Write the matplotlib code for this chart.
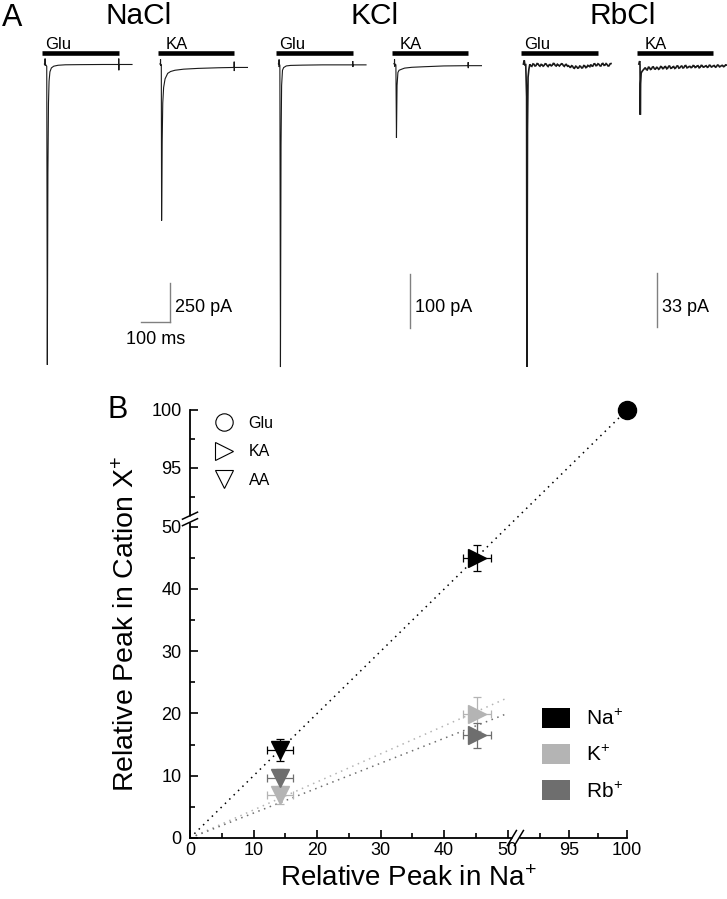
import numpy as np
import matplotlib
matplotlib.use("Agg")
import matplotlib.pyplot as plt
import matplotlib.transforms as mtransforms
from matplotlib.lines import Line2D
from matplotlib.patches import Patch
from matplotlib.ticker import FixedLocator, FixedFormatter

plt.rcParams['font.family'] = ['Liberation Sans', 'DejaVu Sans']
plt.rcParams['mathtext.fontset'] = 'custom'
plt.rcParams['mathtext.rm'] = 'Liberation Sans'
plt.rcParams['mathtext.it'] = 'Liberation Sans:italic'

# ---------------- Panel A data (time in ms from application onset, current in pA) -------------
SALTS = ['NaCl', 'KCl', 'RbCl']
AGONISTS = ['Glu', 'KA']
SCALE_PA = [250, 100, 33]          # vertical scale bar value per salt
SCALE_MS = 100                     # horizontal scale bar (NaCl only)
APPLICATION_MS = [-10, 255]        # agonist application bar

T_NA_GLU = [-2, 0, 0.3, 0.6, 1, 6, 8, 10, 12, 14, 17, 22, 30, 45, 70, 120, 200, 254, 254.3, 254.6, 255, 300]
I_NA_GLU = [0, 0, 35, -10, 0, -15, -1929, -700, -250, -110, -50, -25, -14, -8, -5, -4, -3, -3, 35, -40, -3, -3]
T_NA_KA = [-2, 0, 0.3, 0.6, 1, 3, 4, 6, 8, 11, 16, 25, 35, 50, 80, 130, 200, 254, 254.3, 254.6, 255, 300]
I_NA_KA = [0, 0, 30, -10, 0, -10, -1004, -500, -250, -150, -95, -60, -48, -40, -33, -28, -24, -22, 15, -45, -22, -22]

T_K_GLU = [-2, 0, 0.3, 0.6, 1, 3, 5, 7, 9, 12, 16, 25, 40, 80, 150, 254, 254.3, 254.6, 255, 300]
I_K_GLU = [0, 0, 8, -6, 0, -3, -561, -150, -40, -12, -7, -4, -3, -2.5, -2, -2, 5, -6, -2, -2]
T_K_KA = [-2, 0, 0.3, 0.6, 1, 5, 7, 9, 12, 16, 25, 35, 60, 100, 170, 254, 254.3, 254.6, 255, 300]
I_K_KA = [0, 0, 8, -5, 0, -2, -137, -40, -16, -12, -10, -8, -6.5, -5.5, -4, -3.5, 3, -8, -3.5, -3.5]

T_RB_GLU = [-2, 0, 1, 3, 6, 9, 10, 12, 14, 17,
            20, 24, 27, 31, 34, 38, 41, 45, 48, 52, 55, 59, 62, 66, 69, 73, 76, 80, 83, 87, 90, 94, 97,
            101, 104, 108, 111, 115, 118, 122, 125, 129, 132, 136, 139, 143, 146, 150, 153, 157,
            160, 164, 167, 171, 174, 178, 181, 185, 188, 192, 195, 199, 202, 206, 209, 213, 216,
            220, 223, 227, 230, 234, 237, 241, 244, 248, 251, 255, 258, 262, 265, 269, 272, 276,
            279, 283, 286, 290, 293, 297, 300]
I_RB_GLU = [0, 1.8, 2.2, -0.5, -0.4, -20, -185, -40, -8, -3,
            -0.2, -1.1, -1.4, 0.1, -0.1, -1.2, -1.0, 0.3, 0.2, -0.9, -1.3, -0.2, -0.4, -1.3, -0.9,
            0.2, 0.1, -1.0, -1.5, -0.4, -0.3, -1.1, -0.8, 0.4, 0.3, -0.9, -1.2, -0.1, -0.5, -1.2,
            -0.6, 0.2, 0.1, -1.0, -1.4, -0.3, -0.2, -1.3, -1.0, -1.6,
            -2.2, -1.0, -1.2, -2.4, -2.6, -1.3, -1.5, -2.5, -2.4, -1.2, -1.4, -2.4, -2.3, -0.9,
            -1.0, -2.2, -2.0, -0.8, -1.1, -1.6, -0.3, -1.2, -1.3, 0.1, 0.2, -1.0, -0.9, 0.2, -0.1,
            -1.1, -1.2, 0.2, 0.4, -0.8, -0.7, 0.3, -0.2, -1.2, -1.1, 0.2, 0.3]
T_RB_KA = [-2, 0, 1, 2, 3, 4, 6, 9, 13,
           20, 24, 27, 31, 34, 38, 41, 45, 48, 52, 55, 59, 62, 66, 69, 73, 76, 80, 83, 87, 90, 94, 97,
           101, 104, 108, 111, 115, 118, 122, 125, 129, 132, 136, 139, 143, 146, 150, 153, 157,
           160, 164, 167, 171, 174, 178, 181, 185, 188, 192, 195, 199, 202, 206, 209, 213, 216,
           220, 223, 227, 230, 234, 237, 241, 244, 248, 251, 255, 258, 262, 265, 269, 272, 276,
           279, 283, 286, 290, 293, 297, 300]
I_RB_KA = [0, 1.4, 1.8, -0.5, -31, -12, -5.5, -4.5, -3.6,
           -2.2, -3.4, -3.6, -1.9, -2.0, -3.3, -3.1, -1.8, -1.7, -3.0, -3.1, -2.0, -2.1, -3.2,
           -2.9, -1.5, -1.6, -2.8, -2.7, -1.6, -1.5, -2.9, -2.6, -1.3, -1.2, -2.6, -2.5, -1.7,
           -1.5, -2.7, -2.4, -1.2, -1.1, -2.5, -2.3, -1.4, -1.2, -2.4, -2.2, -1.0, -0.9, -2.3,
           -2.1, -1.5, -1.4, -2.2, -2.0, -0.9, -1.0, -2.1, -1.9, -1.1, -1.0, -2.3, -2.0, -0.8,
           -0.9, -1.9, -1.8, -1.2, -1.0, -2.0, -1.8, -0.7, -0.8, -1.8, -1.6, -1.0, -0.9, -1.9,
           -1.7, -0.6, -0.7, -1.7, -1.5, -0.9, -0.8, -1.6, -1.4, -0.5, -0.6]

TRACES = {
    'NaCl': [(T_NA_GLU, I_NA_GLU), (T_NA_KA, I_NA_KA)],
    'KCl': [(T_K_GLU, I_K_GLU), (T_K_KA, I_K_KA)],
    'RbCl': [(T_RB_GLU, I_RB_GLU), (T_RB_KA, I_RB_KA)],
}

# ---------------- Panel B data ----------------
IONS = ['Na$^{\\!+}$', 'K$^{\\!+}$', 'Rb$^{\\!+}$']
ION_COLORS = ['#000000', '#b4b4b4', '#6e6e6e']
GLU_X = [100.0]
GLU_Y = [100.0]
KA_X = [45.2, 45.2, 45.2]
KA_XERR = [2.2, 2.2, 2.2]
KA_Y = [45.0, 19.9, 16.5]
KA_YERR = [2.1, 2.7, 2.0]
AA_X = [14.2, 14.2, 14.2]
AA_XERR = [2.0, 2.0, 2.0]
AA_Y = [14.1, 6.9, 9.6]
AA_YERR = [1.8, 1.5, 1.5]
FIT_SLOPE = [1.0, 0.45, 0.40]
FIT_XMAX = [100, 50, 50]
MAJOR_TICKS = [0, 10, 20, 30, 40, 50, 95, 100]
MINOR_TICKS = [5, 15, 25, 35, 45, 92.5, 97.5]

# ---------------- figure ----------------
W, H = 727, 899
fig = plt.figure(figsize=(W / 100, H / 100), dpi=100)


def px_axes(left, top, width, height):
    return fig.add_axes([left / W, 1 - (top + height) / H, width / W, height / H])


# Panel A layout
A_LEFT = [30.5, 264.5, 509.5]
A_TOP, A_H, A_W = 40, 340, 230
A_XLIM = (-50, 743)
A_YLIM = [(-2026, 154), (-585, 44), (-193, 14.7)]
KA_OFFSET = 398
TITLE_X = [0.47, 0.48, 0.49]
SB_X = [431, 452, 459]
SB_BOTTOM = [0.171, 0.153, 0.156]
LABEL_X = [0, 18]
trace_color = '#1a1a1a'
bar_color = '#808080'

for i, salt in enumerate(SALTS):
    ax = px_axes(A_LEFT[i], A_TOP, A_W, A_H)
    ax.set_xlim(*A_XLIM)
    ax.set_ylim(*A_YLIM[i])
    ax.axis('off')
    blend = mtransforms.blended_transform_factory(ax.transData, ax.transAxes)
    lw = 1.2 if salt == 'RbCl' else 0.8
    for j, (t, cur) in enumerate(TRACES[salt]):
        off = j * KA_OFFSET
        ax.plot(np.asarray(t) + off, cur, color=trace_color, lw=lw, solid_joinstyle='miter')
        ax.plot([APPLICATION_MS[0] + off, APPLICATION_MS[1] + off], [0.963, 0.963],
                transform=blend, color='black', lw=3.3, solid_capstyle='butt')
        ax.text(LABEL_X[j] + off, 0.973, AGONISTS[j], transform=blend, fontsize=12,
                ha='left', va='baseline')
    ax.text(TITLE_X[i], 1.07, salt, transform=ax.transAxes, fontsize=21.5,
            ha='center', va='center')
    y0, y1 = A_YLIM[i]
    yb = y0 + SB_BOTTOM[i] * (y1 - y0)
    ax.plot([SB_X[i], SB_X[i]], [yb, yb + SCALE_PA[i]], color=bar_color, lw=1.0)
    ax.text(SB_X[i] + 17, 0.212, f'{SCALE_PA[i]} pA', transform=blend, fontsize=13,
            ha='left', va='center')
    if salt == 'NaCl':
        ax.plot([SB_X[i] - SCALE_MS, SB_X[i]], [yb, yb], color=bar_color, lw=1.0)
        ax.text(SB_X[i] - SCALE_MS / 2, 0.118, f'{SCALE_MS} ms', transform=blend,
                fontsize=13, ha='center', va='center')

fig.text(2 / W, 1 - 17.5 / H, 'A', fontsize=22, ha='left', va='center')
fig.text(108 / W, 1 - 410 / H, 'B', fontsize=22, ha='left', va='center')

# Panel B: broken axes via piecewise scale


def make_scale(gap, top_slope):
    xp = np.array([-1000.0, 0.0, 50.0, 90.0, 100.0, 1000.0])
    fp = np.array([-1000.0, 0.0, 50.0, 50.0 + gap, 50.0 + gap + 10 * top_slope,
                   50.0 + gap + 910 * top_slope])

    def fwd(v):
        return np.interp(v, xp, fp)

    def inv(v):
        return np.interp(v, fp, xp)
    return fwd, inv


axB = px_axes(190, 410, 437, 428)
axB.set_xscale('function', functions=make_scale(0.6, 1.82))
axB.set_yscale('function', functions=make_scale(0.1, 1.86))
axB.set_xlim(0, 100)
axB.set_ylim(0, 100)
for s in ['top', 'right']:
    axB.spines[s].set_visible(False)
for s in ['left', 'bottom']:
    axB.spines[s].set_linewidth(1.3)
for axis in (axB.xaxis, axB.yaxis):
    axis.set_major_locator(FixedLocator(MAJOR_TICKS))
    axis.set_minor_locator(FixedLocator(MINOR_TICKS))
    axis.set_major_formatter(FixedFormatter([str(v) for v in MAJOR_TICKS]))
axB.tick_params(which='major', direction='in', length=5.5, width=1.2, labelsize=13)
axB.tick_params(which='minor', direction='in', length=3.5, width=1.2)
axB.tick_params(axis='x', which='major', pad=3)
axB.tick_params(axis='y', which='major', pad=6)

# fitted lines
for k in range(3):
    xs = [0, FIT_XMAX[k]]
    ys = [0, FIT_SLOPE[k] * FIT_XMAX[k]]
    axB.plot(xs, ys, color=ION_COLORS[k], lw=1.1, ls=(0, (1, 3)), zorder=1, clip_on=False)

# data
for k in range(3):
    c = ION_COLORS[k]
    axB.errorbar([KA_X[k]], [KA_Y[k]], xerr=[KA_XERR[k]], yerr=[KA_YERR[k]], fmt='none',
                 ecolor=c, elinewidth=0.9, capsize=3, capthick=0.9, zorder=2)
    axB.plot([KA_X[k]], [KA_Y[k]], marker='>', ms=13, color=c, ls='none', zorder=3)
    axB.errorbar([AA_X[k]], [AA_Y[k]], xerr=[AA_XERR[k]], yerr=[AA_YERR[k]], fmt='none',
                 ecolor=c, elinewidth=0.9, capsize=3, capthick=0.9, zorder=2)
    axB.plot([AA_X[k]], [AA_Y[k]], marker='v', ms=13, color=c, ls='none', zorder=3)
axB.plot(GLU_X, GLU_Y, marker='o', ms=13, color=ION_COLORS[0], ls='none', zorder=3,
         clip_on=False)

axB.set_xlabel('Relative Peak in Na$^{\\!+}$', fontsize=20, labelpad=5)
axB.set_ylabel('Relative Peak in Cation X$^{\\!+}$', fontsize=20.5, labelpad=8)

# break marks
BREAK_X = 90.35
BREAK_Y = 90.6


def break_marks(ax, base_trans, bx, by, slash_dx, slash_dy, sep_dx, sep_dy, gap_seg):
    T = fig.dpi_scale_trans + mtransforms.ScaledTranslation(bx, by, base_trans)
    ax.add_line(Line2D(gap_seg[0], gap_seg[1], transform=T, color='white', lw=2.5,
                       zorder=5, clip_on=False, solid_capstyle='butt'))
    for s in (-0.5, 0.5):
        ax.add_line(Line2D([s * sep_dx - slash_dx, s * sep_dx + slash_dx],
                           [s * sep_dy - slash_dy, s * sep_dy + slash_dy],
                           transform=T, color='black', lw=1.1, zorder=6, clip_on=False))


bt_x = mtransforms.blended_transform_factory(axB.transData, axB.transAxes)
bt_y = mtransforms.blended_transform_factory(axB.transAxes, axB.transData)
break_marks(axB, bt_x, BREAK_X, 0, 0.045, 0.075, 0.07, 0.0,
            ([-0.035, 0.035], [0, 0]))
break_marks(axB, bt_y, 0, BREAK_Y, 0.075, 0.035, 0.0, 0.065,
            ([0, 0], [-0.032, 0.032]))

# legends
shape_handles = [Line2D([], [], marker=m, ls='none', mfc='none', mec='black', mew=0.8, ms=12.5)
                 for m in ['o', '>', 'v']]
leg1 = axB.legend(shape_handles, ['Glu', 'KA', 'AA'], loc='upper left',
                  bbox_to_anchor=(0.05, 0.986), frameon=False, fontsize=11.5,
                  handlelength=1.5, handletextpad=0.81, labelspacing=0.83,
                  borderpad=0, borderaxespad=0)
axB.add_artist(leg1)
ion_handles = [Patch(facecolor=c, edgecolor='none') for c in ION_COLORS]
axB.legend(ion_handles, IONS, loc='upper left', bbox_to_anchor=(0.805, 0.303),
           frameon=False, fontsize=15, handlelength=1.35, handleheight=1.1,
           handletextpad=0.77, labelspacing=0.72, borderpad=0, borderaxespad=0)

fig.savefig('out.png', dpi=100)
